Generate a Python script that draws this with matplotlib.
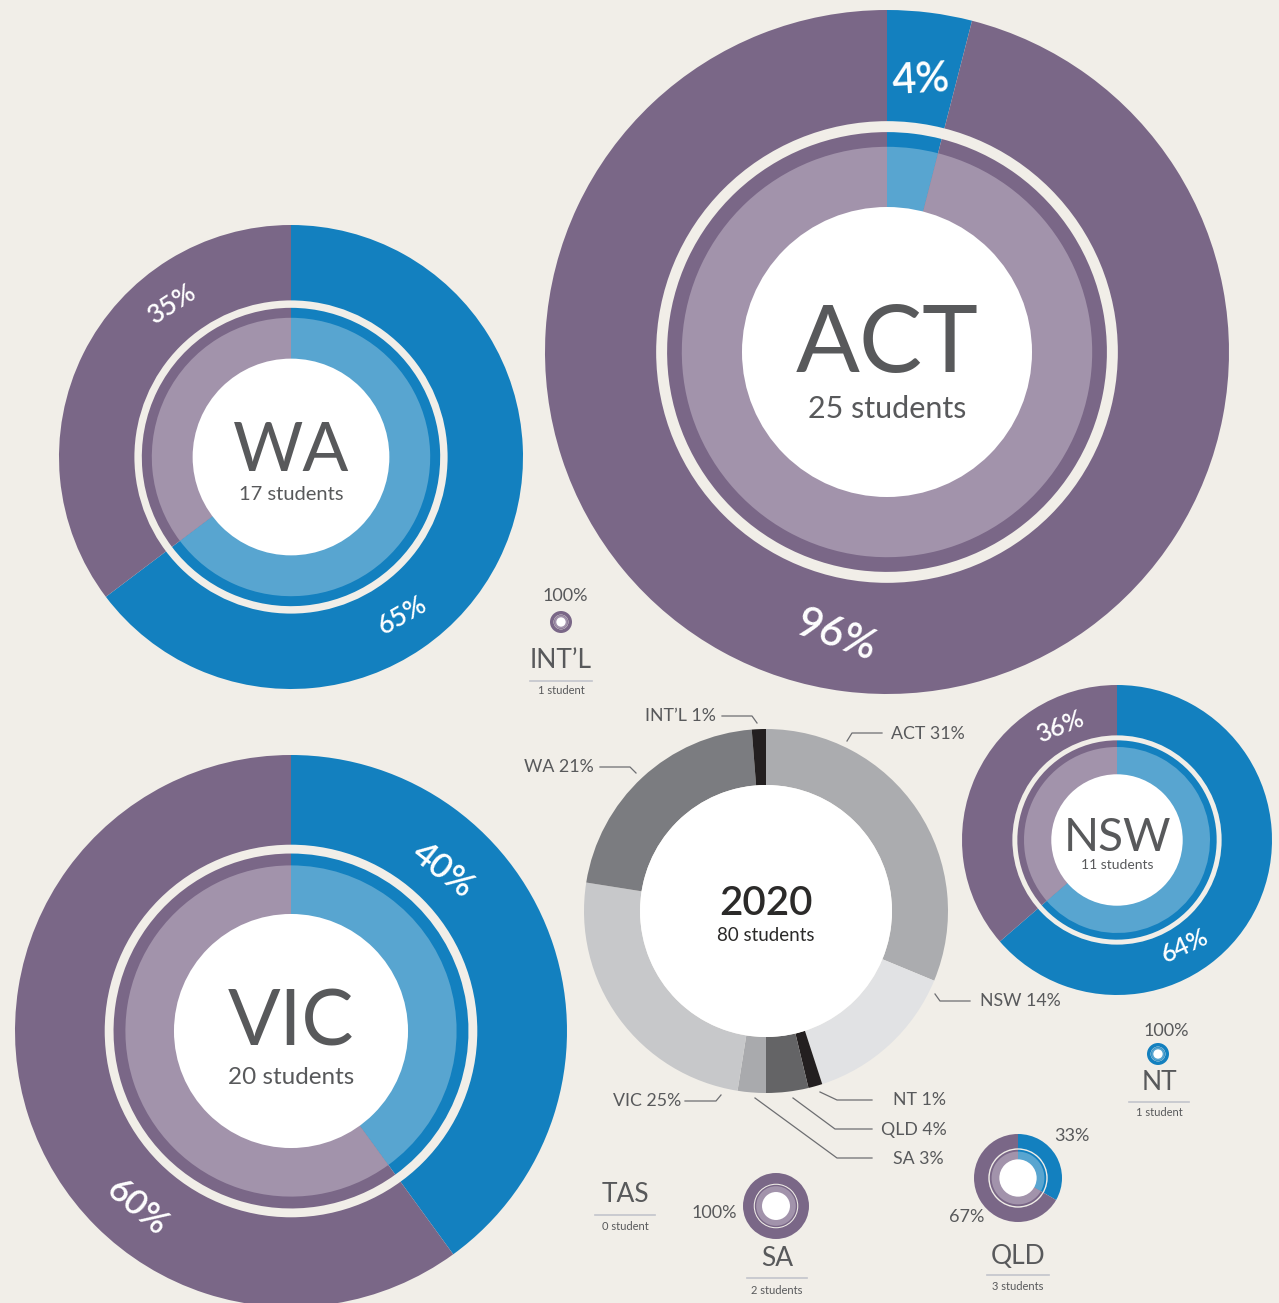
import matplotlib.pyplot as plt
from matplotlib.patches import Circle

W, H = 1279, 1303
BG = '#F1EEE8'
PURPLE = '#7A6787'
LPURPLE = '#A293AB'
BLUE = '#1380BF'
LBLUE = '#58A5D0'
TXT = '#58595B'

# data
states = ['ACT', 'NSW', 'NT', 'QLD', 'SA', 'VIC', 'WA', 'INT’L', 'TAS']
students = [25, 11, 1, 3, 2, 20, 17, 1, 0]
blue_students = [1, 7, 1, 1, 0, 8, 11, 0, 0]
blue_pct = [4, 64, 100, 33, 0, 40, 65, 0, 0]
purple_pct = [96, 36, 0, 67, 100, 60, 35, 100, 0]
share_pct = [31, 14, 1, 4, 3, 25, 21, 1, 0]
year = '2020'
total_students = 80

# layout: centre x, centre y (pixels from top), outer radius
layout = {
    'ACT': (887, 352, 342),
    'WA': (291, 457, 232),
    'VIC': (291, 1031, 276),
    'NSW': (1117, 840, 155),
    'QLD': (1018, 1178, 44),
    'SA': (776, 1206, 33),
    'NT': (1158, 1054, 11),
    'INT’L': (561, 622, 11),
}
# big donuts: name size, name dy, sub size, sub dy
big_text = {
    'ACT': (68, 20, 22, 66),
    'WA': (49, 14, 14.5, 43),
    'VIC': (56, 15, 17.5, 53),
    'NSW': (33, 11, 10, 29),
}
# ring percentage labels: (x, y, rotation, size) for blue, purple
ring_labels = {
    'ACT': ((921, 80, 3, 30), (836, 636, -20, 30)),
    'WA': ((403, 615, 30, 19), (172, 305, 33, 19)),
    'VIC': ((443, 870, -38, 25), (137, 1207, -40, 25)),
    'NSW': ((1185, 946, 25, 18), (1060, 727, 22, 18)),
}
# small entries: name pos, underline y/halfwidth, sub y
small_text = {
    'INT’L': (561, 661, 681, 31, 691),
    'NT': (1159, 1083, 1102, 30, 1113),
    'TAS': (625, 1194, 1215, 30, 1227),
    'SA': (777, 1259, 1278, 30, 1290),
    'QLD': (1018, 1256, 1275, 31, 1286),
}
small_pct = {
    'INT’L': [(565, 596, 'center', 'purple')],
    'NT': [(1166, 1031, 'center', 'blue')],
    'SA': [(737, 1213, 'right', 'purple')],
    'QLD': [(1072, 1136, 'center', 'blue'), (967, 1217, 'center', 'purple')],
}

# centre donut
grays = ['#ABACAF', '#E1E2E4', '#231F20', '#646466', '#A9AAAD', '#C7C8CA', '#7B7C80', '#231F20']
c_x, c_y, c_R, c_r = 766, 911, 182, 126
leaders = {
    'ACT': ([(847, 741), (852, 733), (882, 733)], 891, 734, 'left'),
    'NSW': ([(935, 994), (940, 1001), (970, 1001)], 980, 1001, 'left'),
    'NT': ([(820, 1092), (837, 1100), (872, 1100)], 893, 1100, 'left'),
    'QLD': ([(793, 1098), (835, 1129), (872, 1129)], 881, 1130, 'left'),
    'SA': ([(755, 1098), (837, 1158), (872, 1158)], 893, 1159, 'left'),
    'VIC': ([(721, 1095), (716, 1101), (685, 1101)], 681, 1101, 'right'),
    'WA': ([(636, 773), (630, 767), (600, 767)], 594, 767, 'right'),
    'INT’L': ([(757, 723), (752, 716), (722, 716)], 716, 716, 'right'),
}

plt.rcParams['font.family'] = ['Lato', 'DejaVu Sans']


def Y(y):
    return H - y


fig = plt.figure(figsize=(W / 100, H / 100), dpi=100, facecolor=BG)
ax = fig.add_axes([0, 0, 1, 1])
ax.set_facecolor(BG)


def ring(cx, cy, R, blue, total):
    vals = [blue, total - blue]
    kw = dict(center=(cx, Y(cy)), startangle=90, counterclock=False,
              wedgeprops=dict(linewidth=0))
    ax.pie(vals, radius=R, colors=[BLUE, PURPLE], **kw)
    ax.add_patch(Circle((cx, Y(cy)), 0.675 * R, fc=BG, lw=0))
    ax.pie(vals, radius=0.643 * R, colors=[BLUE, PURPLE], **kw)
    ax.pie(vals, radius=0.600 * R, colors=[LBLUE, LPURPLE], **kw)
    ax.add_patch(Circle((cx, Y(cy)), 0.424 * R, fc='white', lw=0))


for i, st in enumerate(states):
    if students[i] == 0 or st not in layout:
        continue
    cx, cy, R = layout[st]
    ring(cx, cy, R, blue_students[i], students[i])

    if st in big_text:
        ns, ndy, ss, sdy = big_text[st]
        ax.text(cx, Y(cy + ndy), st, fontsize=ns, color=TXT, ha='center', va='baseline')
        ax.text(cx, Y(cy + sdy), f'{students[i]} students', fontsize=ss, color=TXT,
                ha='center', va='baseline')
        (bx, by, br, bs), (px, py, pr, ps) = ring_labels[st]
        ax.text(bx, Y(by), f'{blue_pct[i]}%', fontsize=bs, color='white', ha='center',
                va='center', rotation=br, rotation_mode='anchor', fontweight='semibold')
        ax.text(px, Y(py), f'{purple_pct[i]}%', fontsize=ps, color='white', ha='center',
                va='center', rotation=pr, rotation_mode='anchor', fontweight='semibold')

# small labels
for i, st in enumerate(states):
    if st not in small_text:
        continue
    nx, ny, uy, hw, sy = small_text[st]
    ax.text(nx, Y(ny), st, fontsize=19, color=TXT, ha='center', va='center')
    ax.plot([nx - hw, nx + hw], [Y(uy), Y(uy)], color='#C3C4CC', lw=1.2)
    word = 'student' if students[i] <= 1 else 'students'
    ax.text(nx, Y(sy), f'{students[i]} {word}', fontsize=8, color=TXT, ha='center', va='center')
    for (px, py, ha, kind) in small_pct.get(st, []):
        val = blue_pct[i] if kind == 'blue' else purple_pct[i]
        ax.text(px, Y(py), f'{val}%', fontsize=13, color=TXT, ha=ha, va='center')

# centre donut
ax.pie(students[:8], radius=c_R, colors=grays, center=(c_x, Y(c_y)), startangle=90,
       counterclock=False, wedgeprops=dict(width=c_R - c_r, linewidth=0))
ax.add_patch(Circle((c_x, Y(c_y)), c_r, fc='white', lw=0))
ax.text(c_x, Y(c_y + 4), year, fontsize=29, color='#2B2A29', ha='center', va='baseline',
        fontweight='semibold')
ax.text(c_x, Y(c_y + 30), f'{total_students} students', fontsize=13.5, color='#2B2A29',
        ha='center', va='baseline')

for i, st in enumerate(states[:8]):
    pts, tx, ty, ha = leaders[st]
    ax.plot([p[0] for p in pts], [Y(p[1]) for p in pts], color='#6D6E71', lw=0.9)
    ax.text(tx, Y(ty), f'{st} {share_pct[i]}%', fontsize=12.8, color=TXT, ha=ha, va='center')

ax.set_xlim(0, W)
ax.set_ylim(0, H)
ax.set_aspect('equal')
ax.axis('off')
fig.savefig('out.png', dpi=100, facecolor=BG)
